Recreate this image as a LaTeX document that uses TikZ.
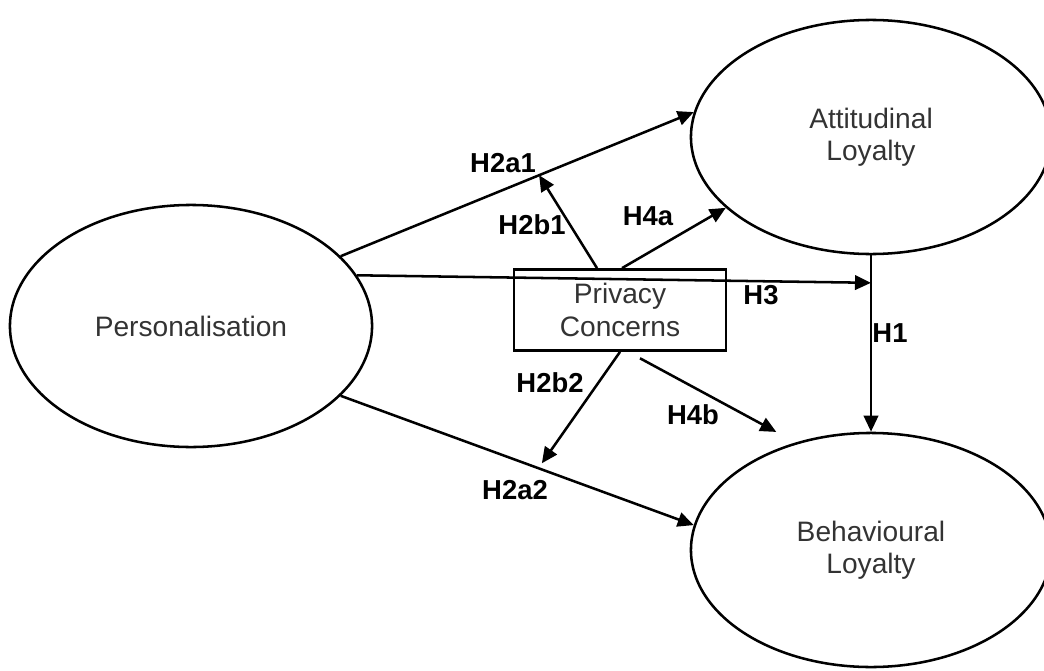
\documentclass[tikz,border=0pt]{standalone}
\usepackage{fontspec}
\setmainfont{Liberation Sans}
\usetikzlibrary{shapes.geometric,arrows.meta}

\begin{document}
\begin{tikzpicture}[
        x=0.025cm, y=-0.025cm,
        cons/.style={draw, ellipse, line width=1.8pt, inner sep=0pt, align=center,
                     font=\fontsize{20}{23}\selectfont, text=black!80},
        caixa/.style={draw, rectangle, line width=1.8pt, inner sep=0pt, align=center,
                      minimum width=5.3cm, minimum height=2.03cm,
                      font=\fontsize{20}{23}\selectfont, text=black!80},
        seta/.style={line width=1.8pt, -{Triangle[length=0.4cm,width=0.36cm]}},
        hip/.style={font=\bfseries\fontsize{19.5}{22.5}\selectfont, inner sep=0pt},
    ]
        \useasboundingbox (0,0) rectangle (1044,670);
        % construtos
        \node[cons, minimum width=9.05cm, minimum height=6.05cm] (pers) at (191,326) {Personalisation};
        \node[cons, minimum width=9cm, minimum height=5.85cm] (att) at (871,137) {Attitudinal\\ Loyalty};
        \node[cons, minimum width=9cm, minimum height=5.85cm] (beh) at (871,550) {Behavioural\\ Loyalty};
        \node[caixa] (priv) at (620,310) {Privacy\\ Concerns};
        % efeitos diretos
        \draw[seta] (att.south) -- coordinate[pos=0.156] (h3) (beh.north);
        \draw[seta] (pers.25) -- coordinate[pos=0.562] (m1) (att.172);
        \draw[seta] (pers.17) -- (h3);
        \draw[seta] (pers.-25) -- coordinate[pos=0.56] (m2) (beh.172);
        % moderação
        \draw[seta] ([xshift=-0.575cm]priv.north) -- (m1);
        \draw[seta] ([xshift=0.05cm]priv.north) -- (att.206);
        \draw[seta, shorten >=0.15cm] (priv.south) -- (m2);
        \draw[seta, shorten >=0.55cm] ([xshift=0.5cm,yshift=-0.16cm]priv.south) -- (beh.125);
        % rótulos
        \node[hip] (l2a1) at (503,163) {H2a1};
        \node[hip] (l2b1) at (532,225) {H2b1};
        \node[hip] (l4a)  at (648,216) {H4a};
        \node[hip] (l3)   at (761,295) {H3};
        \node[hip] (l1)   at (890,333) {H1};
        \node[hip] (l2b2) at (550,383) {H2b2};
        \node[hip] (l4b)  at (693,415) {H4b};
        \node[hip] (l2a2) at (515,490) {H2a2};
    \end{tikzpicture}
\end{document}
